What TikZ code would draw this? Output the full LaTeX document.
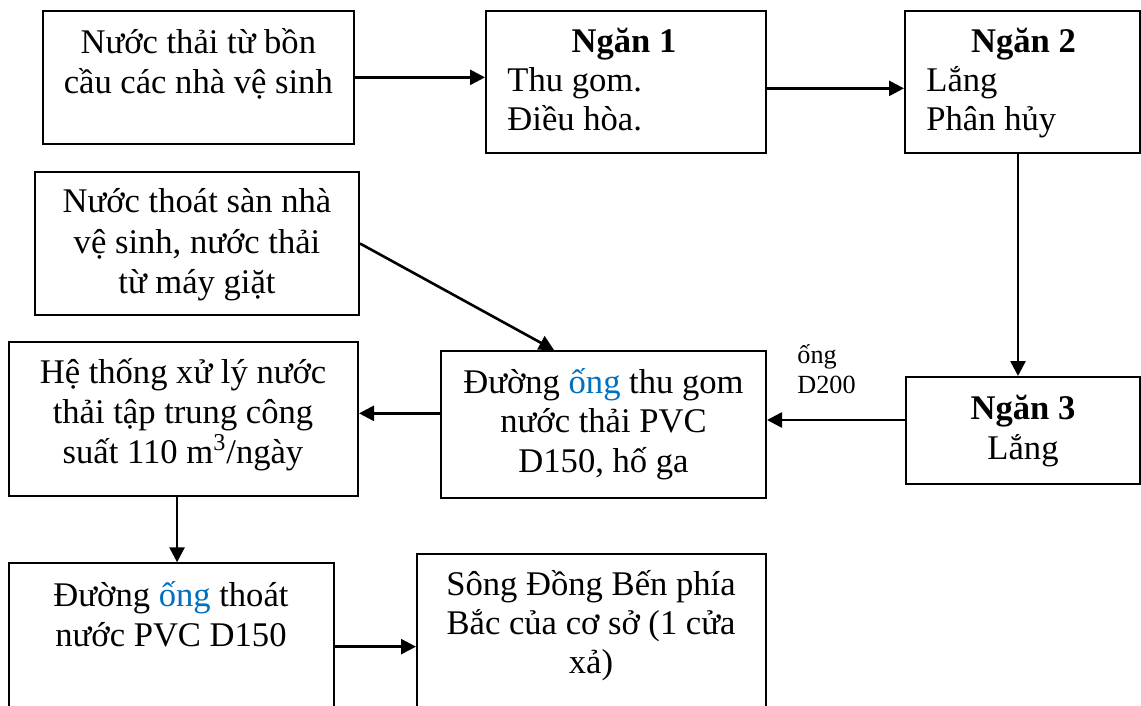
\documentclass[tikz,border=0pt]{standalone}
\usepackage{fontspec}
\setmainfont{Liberation Serif}
\usetikzlibrary{arrows.meta,fit}
\definecolor{ongblue}{RGB}{0,112,192}
\begin{document}
\begin{tikzpicture}[x=0.5pt,y=-0.5pt,
  box/.style={draw, line width=1pt, inner sep=0pt},
  arr/.style={line width=1.3pt, -{Triangle[length=7.5pt,width=7.5pt]}},
  txt/.style={inner sep=0pt, anchor=base, font=\fontsize{17.3}{20}\selectfont},
  txtl/.style={txt, anchor=base west},
  hd/.style={inner sep=0pt, anchor=base, font=\fontsize{17.3}{20}\selectfont\bfseries},
  lbl/.style={inner sep=0pt, anchor=base west, font=\fontsize{13.1}{15}\selectfont}]
\useasboundingbox (0,0) rectangle (1141,706);
\clip (0,0) rectangle (1141,706);

% boxes
\node[box, fit={(43,10.7) (353.5,144)}] (b1) {};
\node[box, fit={(486,10.7) (766,153)}] (b2) {};
\node[box, fit={(905,10.7) (1140,153)}] (b3) {};
\node[box, fit={(35,172) (359,315)}] (b4) {};
\node[box, fit={(8.7,341.7) (358,495.7)}] (b5) {};
\node[box, fit={(441,351) (766,497.7)}] (b6) {};
\node[box, fit={(906,377) (1140,484)}] (b7) {};
\node[box, fit={(8.7,563.3) (334,730)}] (b8) {};
\node[box, fit={(417,554) (766,730)}] (b9) {};

% texts
\node[txt] (t1a) at (198.3,53.3) {Nước thải từ bồn};
\node[txt] (t1b) at (198.3,93.3) {cầu các nhà vệ sinh};

\node[hd] (t2a) at (624,53) {Ngăn 1};
\node[txtl] (t2b) at (507,92) {Thu gom.};
\node[txtl] (t2c) at (507,131) {Điều hòa.};

\node[hd] (t3a) at (1023.5,53) {Ngăn 2};
\node[txtl] (t3b) at (926,92) {Lắng};
\node[txtl] (t3c) at (926,131) {Phân hủy};

\node[txt] (t4a) at (197,213) {Nước thoát sàn nhà};
\node[txt] (t4b) at (197,253) {vệ sinh, nước thải};
\node[txt] (t4c) at (197,293) {từ máy giặt};

\node[txt] (t5a) at (183,383) {Hệ thống xử lý nước};
\node[txt] (t5b) at (183,423) {thải tập trung công};
\node[txt] (t5c) at (183,463) {suất 110 m\textsuperscript{3}/ngày};

\node[txt] (t6a) at (603.5,393) {Đường \textcolor{ongblue}{ống} thu gom};
\node[txt] (t6b) at (603.5,432.5) {nước thải PVC};
\node[txt] (t6c) at (603.5,472.5) {D150, hố ga};

\node[hd] (t7a) at (1023,419) {Ngăn 3};
\node[txt] (t7b) at (1023,459) {Lắng};

\node[txt] (t8a) at (171,606) {Đường \textcolor{ongblue}{ống} thoát};
\node[txt] (t8b) at (171,646) {nước PVC D150};

\node[txt] (t9a) at (591,595) {Sông Đồng Bến phía};
\node[txt] (t9b) at (591,634) {Bắc của cơ sở (1 cửa};
\node[txt] (t9c) at (591,673) {xả)};

\node[lbl] (la) at (797,363) {ống};
\node[lbl] (lb) at (797,393) {D200};

% connectors
\draw[arr] (b1.east) -- (b1.east -| b2.west);
\draw[arr] ([yshift=-3.25pt]b2.east) -- ([yshift=-3.25pt]b2.east -| b3.west);
\draw[arr] ([xshift=-2.25pt]b3.south) -- ([xshift=-2.25pt]b3.south |- b7.north);
\draw[arr] ([yshift=5.25pt]b7.west) -- ([yshift=5.25pt]b7.west -| b6.east);
\draw[arr] ([yshift=5.5pt]b6.west) -- ([yshift=5.5pt]b6.west -| b5.east);
\draw[arr] (b4.east) -- ([xshift=-24.75pt]b6.north);
\draw[arr] ([xshift=-3.15pt]b5.south) -- ([xshift=-3.15pt]b5.south |- b8.north);
\draw[arr] (b8.east) -- (b8.east -| b9.west);
\end{tikzpicture}
\end{document}
